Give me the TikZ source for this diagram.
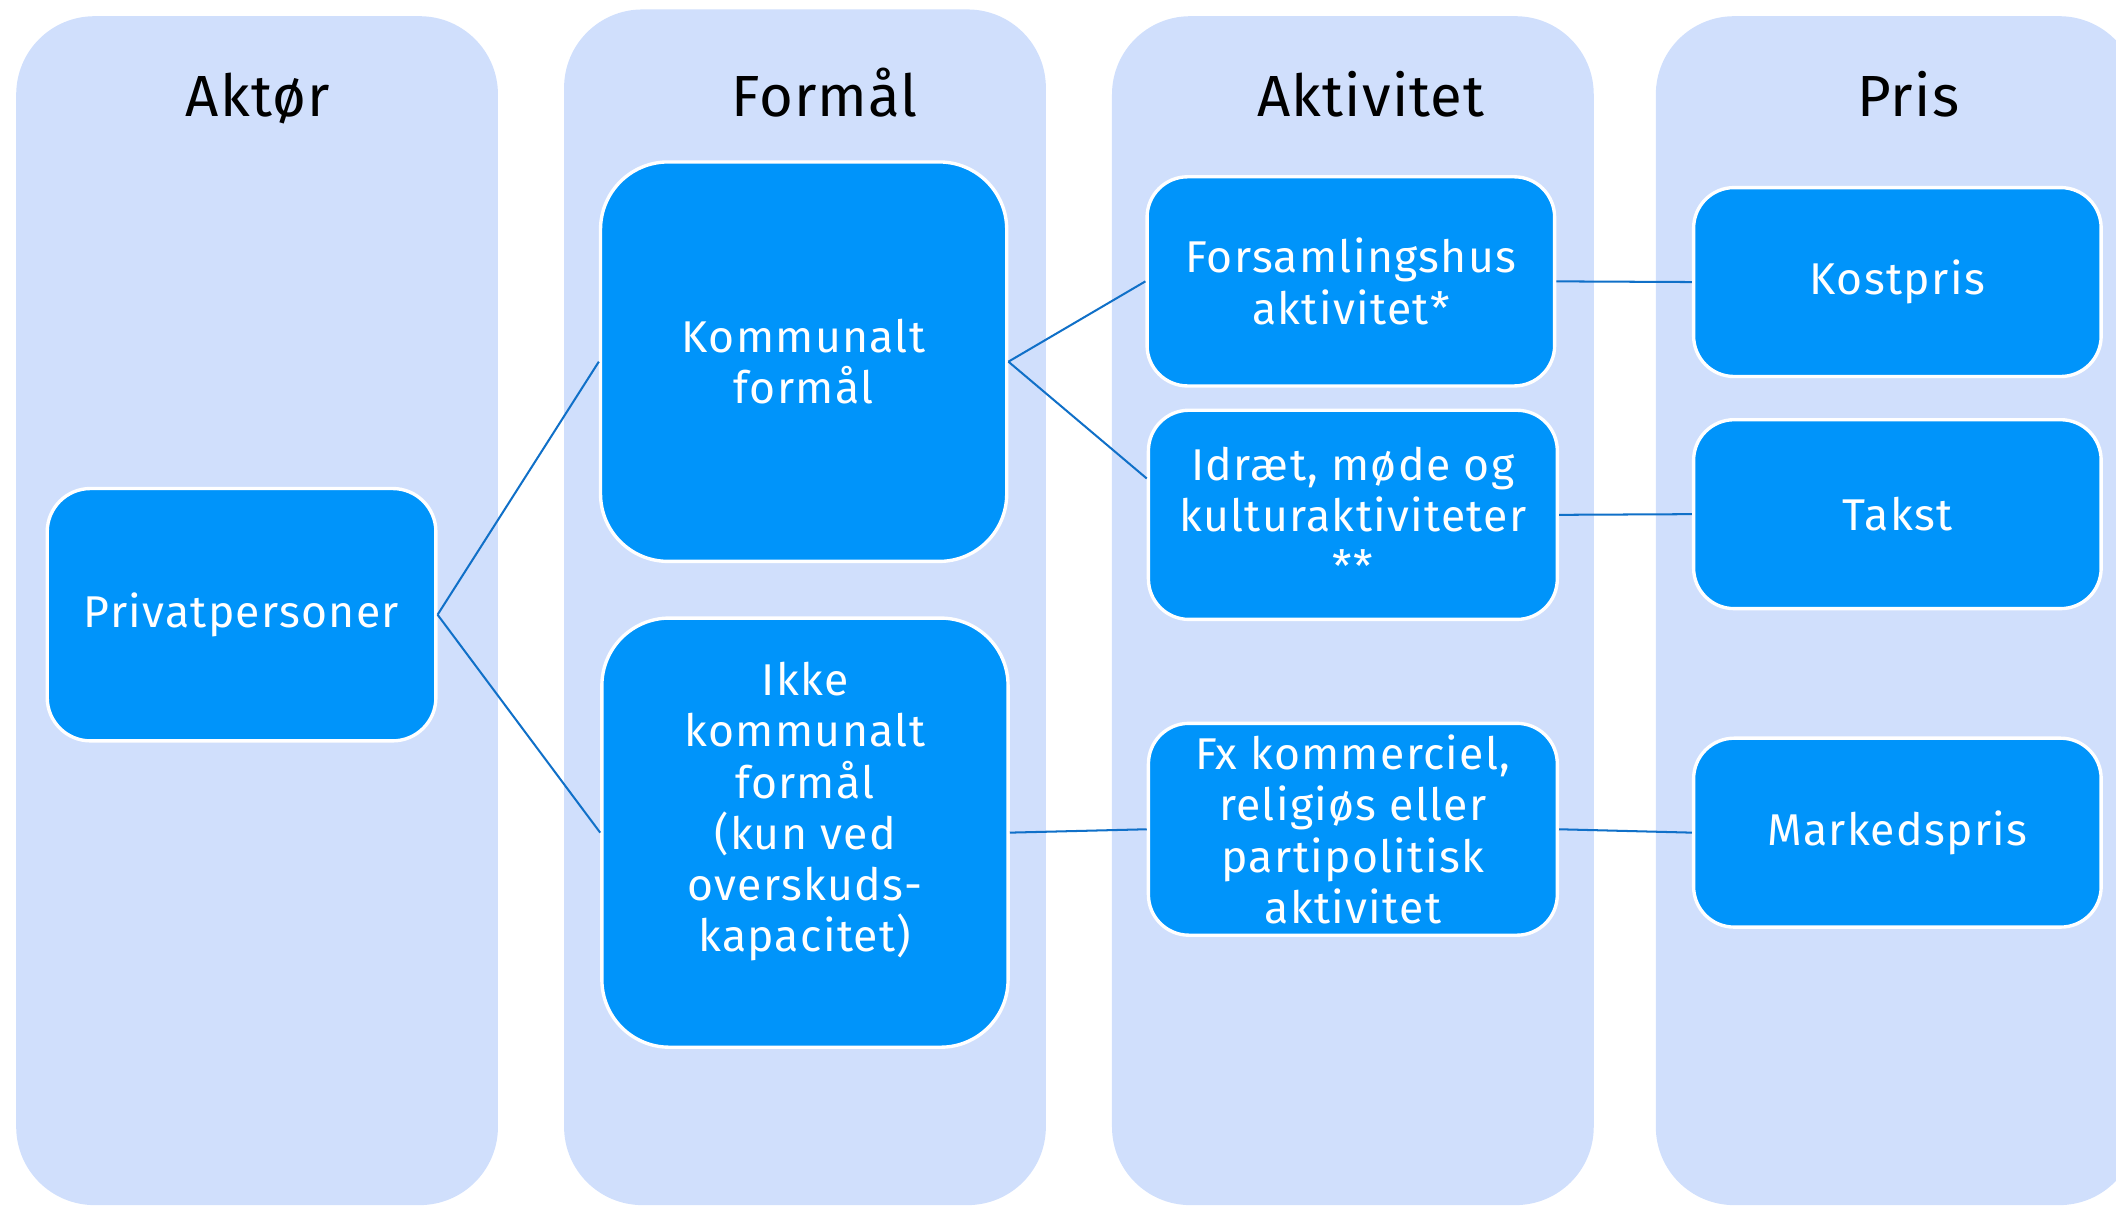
\documentclass[tikz,border=0pt]{standalone}
\usepackage{fontspec}
\setmainfont{Fira Sans}[LetterSpace=2]
\newfontfamily\boxfont{Fira Sans}[LetterSpace=3]
\definecolor{lanefill}{HTML}{D0DFFC}
\definecolor{boxblue}{HTML}{0094FA}
\definecolor{linkblue}{HTML}{1070C8}
\begin{document}
\begin{tikzpicture}[x=1pt,y=-1pt]
    \tikzstyle{lane}=[rectangle,fill=lanefill,rounded corners=58pt,minimum width=357pt,inner sep=0pt]
    \tikzstyle{head}=[font=\fontsize{43}{50}\selectfont,text=black,anchor=base]
    \tikzstyle{box}=[rectangle,draw=white,line width=2.5pt,fill=boxblue,text=white,align=center,inner sep=0pt,rounded corners=30pt,font=\boxfont\fontsize{33}{38}\selectfont]
    \tikzstyle{link}=[draw=linkblue,line width=1.5pt]

    \useasboundingbox (0,0) rectangle (1568,894);
    \clip (0,0) rectangle (1568,894);

    \foreach \name/\x/\y/\h in {akt/190.5/452.5/881, form/596.5/450/886, aktv/1002.5/452.5/881, pris/1405.5/452.5/881}
        \node[lane,minimum height=\h] (L-\name) at (\x,\y) {};

    \foreach \name/\x/\txt in {akt/191/Aktør, form/611/Formål, aktv/1016/Aktivitet, pris/1414/Pris}
        \node[head] (H-\name) at (\x,86) {\txt};

    \node[box,minimum width=288,minimum height=187,rounded corners=32pt] (B-pp) at (179,455.5) {Privatpersoner};
    \node[box,minimum width=301,minimum height=296,rounded corners=50pt] (B-kf) at (595.5,268) {Kommunalt\\formål};
    \node[box,minimum width=301,minimum height=318,rounded corners=50pt] (B-ikf) at (596.5,617) {Ikke\\kommunalt\\formål\\ (kun ved\\overskuds-\\kapacitet)\\\mbox{}};
    \node[box,minimum width=302,minimum height=155] (B-fh) at (1001,208.5) {Forsamlingshus\\aktivitet*};
    \node[box,minimum width=303,minimum height=155] (B-id) at (1002.5,381.5) {Idræt, møde og\\kulturaktiviteter\\**};
    \node[box,minimum width=303,minimum height=157] (B-fx) at (1002.5,614.5) {Fx kommerciel,\\religiøs eller\\partipolitisk\\aktivitet};
    \foreach \name/\y/\txt in {kp/209/Kostpris, tk/381/Takst, mp/617/Markedspris}
        \node[box,minimum width=302,minimum height=140] (B-\name) at (1406,\y) {\txt};

    \draw[link] (B-pp.east) -- (B-kf.west);
    \draw[link] (B-pp.east) -- (B-ikf.west);
    \draw[link] (B-kf.east) -- (B-fh.west);
    \draw[link] (B-kf.east) -- (B-id.170);
    \draw[link] (B-ikf.east) -- (B-fx.west);
    \foreach \from/\to in {fh/kp, id/tk, fx/mp}
        \draw[link] (B-\from.east) -- (B-\to.west);
\end{tikzpicture}
\end{document}
